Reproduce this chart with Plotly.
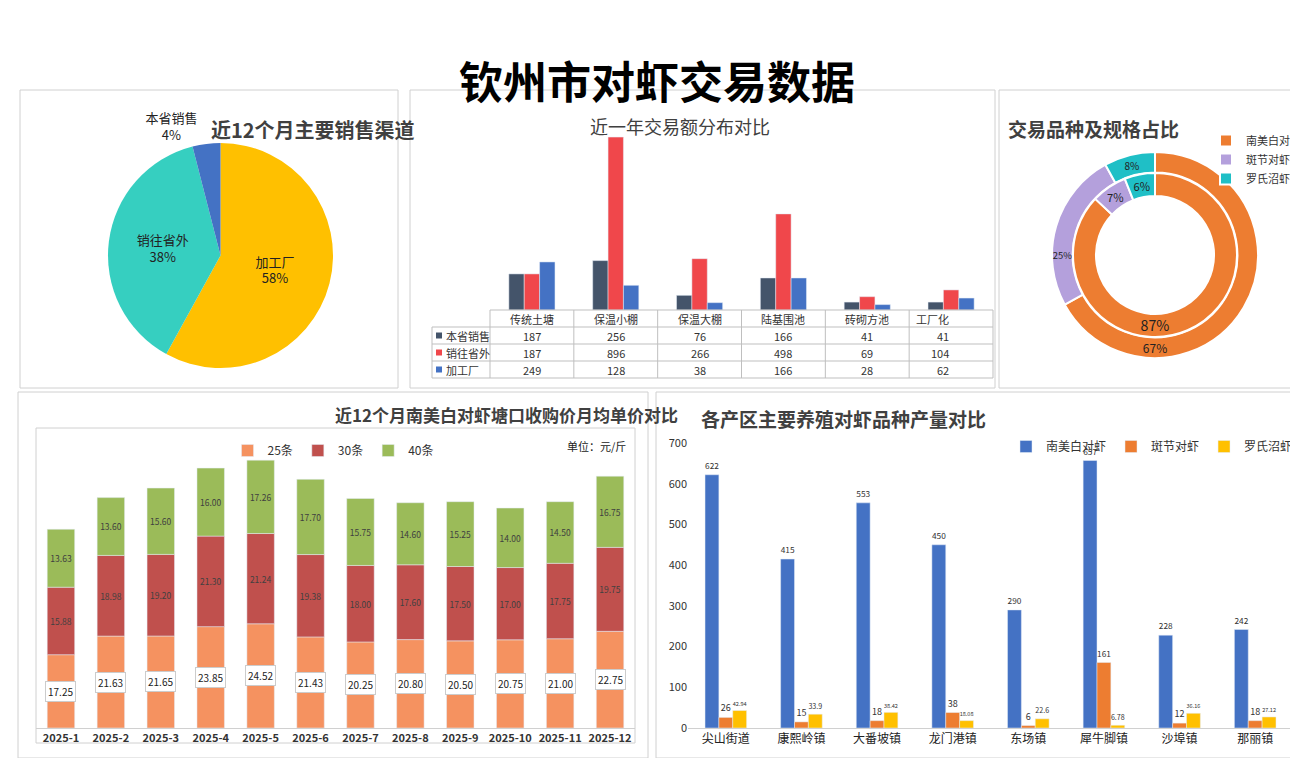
import plotly.graph_objects as go

W, H = 1298, 758

def px(x):
    return x / W

def py(y):
    return 1 - y / H

# ---------------- data ----------------
channel_labels = ["加工厂", "销往省外", "本省销售"]
channel_share = [58, 38, 4]

pond_types = ["传统土塘", "保温小棚", "保温大棚", "陆基围池", "砖砌方池", "工厂化"]
local_sales = [187, 256, 76, 166, 41, 41]
out_province = [187, 896, 266, 498, 69, 104]
factory = [249, 128, 38, 166, 28, 62]

species = ["南美白对虾", "斑节对虾", "罗氏沼虾"]
species_outer = [67, 25, 8]
species_inner = [87, 7, 6]

months = ["2025-1", "2025-2", "2025-3", "2025-4", "2025-5", "2025-6",
          "2025-7", "2025-8", "2025-9", "2025-10", "2025-11", "2025-12"]
price_25 = [17.25, 21.63, 21.65, 23.85, 24.52, 21.43, 20.25, 20.80, 20.50, 20.75, 21.00, 22.75]
price_30 = [15.88, 18.98, 19.20, 21.30, 21.24, 19.38, 18.00, 17.60, 17.50, 17.00, 17.75, 19.75]
price_40 = [13.63, 13.60, 15.60, 16.00, 17.26, 17.70, 15.75, 14.60, 15.25, 14.00, 14.50, 16.75]

towns = ["尖山街道", "康熙岭镇", "大番坡镇", "龙门港镇", "东场镇", "犀牛脚镇", "沙埠镇", "那丽镇"]
white_shrimp = [622, 415, 553, 450, 290, 657, 228, 242]
tiger_shrimp = [26, 15, 18, 38, 6, 161, 12, 18]
giant_prawn = [42.94, 33.9, 38.42, 18.08, 22.6, 6.78, 36.16, 27.12]

FONT = "Noto Sans CJK SC"
fig = go.Figure()

# ---------------- panel 1: pie ----------------
fig.add_trace(go.Pie(
    labels=channel_labels, values=channel_share, sort=False, direction="clockwise",
    rotation=0, marker=dict(colors=["#ffc000", "#36cfc0", "#4472c4"]),
    texttemplate="%{label}<br>%{percent:.0%}", textposition=["inside", "inside", "outside"],
    insidetextorientation="horizontal", textfont=dict(size=13, color="#222"),
    domain=dict(x=[px(60), px(365)], y=[py(360), py(135)]), showlegend=False,
))

# ---------------- panel 2: grouped bars + table ----------------
for name, vals, col in [("本省销售", local_sales, "#44546a"),
                        ("销往省外", out_province, "#f0474b"),
                        ("加工厂", factory, "#4472c4")]:
    fig.add_trace(go.Bar(x=pond_types, y=vals, name=name, marker_color=col,
                         xaxis="x", yaxis="y", showlegend=False))

# ---------------- panel 3: donut ----------------
sp_colors = ["#ed7d31", "#b4a0dc", "#1fbfc6"]
fig.add_trace(go.Pie(
    labels=species, values=species_outer, sort=False, direction="clockwise", hole=0.8,
    marker=dict(colors=sp_colors, line=dict(color="white", width=2)),
    texttemplate="%{percent:.0%}", textposition="inside", insidetextorientation="horizontal",
    textfont=dict(size=12, color="#222"),
    domain=dict(x=[px(1044), px(1250)], y=[py(350), py(144)]), legend="legend",
))
fig.add_trace(go.Pie(
    labels=species, values=species_inner, sort=False, direction="clockwise", hole=0.72,
    marker=dict(colors=sp_colors, line=dict(color="white", width=2)),
    texttemplate="%{percent:.0%}", textposition="inside", insidetextorientation="horizontal",
    textfont=dict(size=15, color="#222"),
    domain=dict(x=[px(1065), px(1229)], y=[py(329), py(165)]), showlegend=False,
))

# ---------------- panel 4: stacked price bars ----------------
base30 = [a for a in price_25]
base40 = [a + b for a, b in zip(price_25, price_30)]
fig.add_trace(go.Bar(x=months, y=price_25, name="25条", marker_color="#f59260",
                     xaxis="x2", yaxis="y2", offsetgroup="s", legend="legend2"))
fig.add_trace(go.Bar(x=months, y=price_30, base=base30, name="30条", marker_color="#c0504d",
                     xaxis="x2", yaxis="y2", offsetgroup="s", legend="legend2",
                     text=[f"{v:.2f}" for v in price_30], textposition="inside", textangle=0,
                     insidetextanchor="middle", textfont=dict(size=12, color="#404040")))
fig.add_trace(go.Bar(x=months, y=price_40, base=base40, name="40条", marker_color="#9bbb59",
                     xaxis="x2", yaxis="y2", offsetgroup="s", legend="legend2",
                     text=[f"{v:.2f}" for v in price_40], textposition="inside", textangle=0,
                     insidetextanchor="middle", textfont=dict(size=12, color="#404040")))

# ---------------- panel 5: production bars ----------------
for name, vals, col in [("南美白对虾", white_shrimp, "#4472c4"),
                        ("斑节对虾", tiger_shrimp, "#ed7d31"),
                        ("罗氏沼虾", giant_prawn, "#ffc000")]:
    fig.add_trace(go.Bar(x=towns, y=vals, name=name, marker_color=col, xaxis="x3", yaxis="y3",
                         text=[f"{v:g}" for v in vals], textposition="outside", cliponaxis=False,
                         textangle=0, textfont=dict(size=9, color="#333"), legend="legend3"))

annotations = []
# labels of 25条 segments in white boxes
for m, v in zip(months, price_25):
    annotations.append(dict(x=m, y=v / 2, xref="x2", yref="y2", text=f"{v:.2f}", showarrow=False,
                            font=dict(size=10, color="#222"), bgcolor="white",
                            bordercolor="#cccccc", borderwidth=1, borderpad=2))

# table under panel 2
row_names = ["本省销售", "销往省外", "加工厂"]
row_cols = ["#44546a", "#f0474b", "#4472c4"]
rows = [local_sales, out_province, factory]
tx0, tx1, ty0, rh = 482, 985, 302, 17
cw = (tx1 - tx0) / len(pond_types)
shapes = []
line_c = "#bfbfbf"
for i, c in enumerate(pond_types):
    annotations.append(dict(x=px(tx0 + cw * (i + 0.5)), y=py(ty0 + rh / 2), xref="paper", yref="paper",
                            text=c, showarrow=False, font=dict(size=11, color="#333")))
for r, (nm, col, vals) in enumerate(zip(row_names, row_cols, rows)):
    yc = ty0 + rh * (r + 1.5)
    shapes.append(dict(type="rect", xref="paper", yref="paper", x0=px(428), x1=px(434),
                       y0=py(yc + 3), y1=py(yc - 3), fillcolor=col, line=dict(width=0)))
    annotations.append(dict(x=px(436), y=py(yc), xref="paper", yref="paper", text=nm, xanchor="left",
                            showarrow=False, font=dict(size=11, color="#333")))
    for i, v in enumerate(vals):
        annotations.append(dict(x=px(tx0 + cw * (i + 0.5)), y=py(yc), xref="paper", yref="paper",
                                text=str(v), showarrow=False, font=dict(size=11, color="#333")))
for r in range(5):
    x0 = tx0 if r == 0 else 424
    shapes.append(dict(type="line", xref="paper", yref="paper", x0=px(x0), x1=px(tx1),
                       y0=py(ty0 + rh * r), y1=py(ty0 + rh * r), line=dict(color=line_c, width=1)))
for i in range(len(pond_types) + 1):
    shapes.append(dict(type="line", xref="paper", yref="paper", x0=px(tx0 + cw * i), x1=px(tx0 + cw * i),
                       y0=py(ty0), y1=py(ty0 + rh * 4), line=dict(color=line_c, width=1)))
shapes.append(dict(type="line", xref="paper", yref="paper", x0=px(424), x1=px(424),
                   y0=py(ty0 + rh), y1=py(ty0 + rh * 4), line=dict(color=line_c, width=1)))

# panel borders
for x0, y0, x1, y1 in [(12, 82, 390, 380), (402, 82, 987, 380), (991, 82, 1290, 380),
                       (10, 384, 640, 750), (648, 384, 1290, 750), (28, 420, 627, 735)]:
    shapes.append(dict(type="rect", xref="paper", yref="paper", x0=px(x0), x1=px(x1),
                       y0=py(y1), y1=py(y0), line=dict(color="#d0d0d0", width=1), layer="below"))

# titles
for txt, x, y, size, bold in [("钦州市对虾交易数据", 649, 38, 44, True),
                              ("近12个月主要销售渠道", 201, 105, 20, True),
                              ("近一年交易额分布对比", 672, 103, 18, False),
                              ("交易品种及规格占比", 1173, 105, 19, True),
                              ("近12个月南美白对虾塘口收购价月均单价对比", 325, 406, 17, True),
                              ("各产区主要养殖对虾品种产量对比", 980, 410, 19, True)]:
    annotations.append(dict(x=px(x), y=py(y), xref="paper", yref="paper", showarrow=False,
                            text=f"<b>{txt}</b>" if bold else txt,
                            font=dict(size=size, color="#000" if size > 40 else "#404040")))
annotations.append(dict(x=px(588), y=py(438), xref="paper", yref="paper", showarrow=False,
                        text="单位：元/斤", font=dict(size=11, color="#222")))

fig.update_layout(
    width=W, height=H, margin=dict(l=0, r=0, t=0, b=0, autoexpand=False), paper_bgcolor="white",
    plot_bgcolor="white", font=dict(family=FONT, color="#333"),
    barmode="group", annotations=annotations, shapes=shapes,
    xaxis=dict(domain=[px(482), px(985)], anchor="y", showticklabels=False, showline=False),
    yaxis=dict(domain=[py(302), py(120)], anchor="x", visible=False, range=[0, 896 / 0.95]),
    xaxis2=dict(domain=[px(28), px(627)], anchor="y2", type="category", showline=True,
                linecolor="#d0d0d0", tickfont=dict(size=11, color="#333", weight="bold")),
    yaxis2=dict(domain=[py(720), py(448)], anchor="x2", visible=False, range=[0, 64]),
    xaxis3=dict(domain=[px(680), px(1285)], anchor="y3", type="category", showline=True,
                linecolor="#d0d0d0", tickfont=dict(size=12, color="#222")),
    yaxis3=dict(domain=[py(720), py(435)], anchor="x3", range=[0, 700], dtick=100,
                showgrid=False, tickfont=dict(size=11, color="#333")),
    bargap=0.45,
    legend=dict(x=px(1198), y=py(118), xanchor="left", yanchor="top", font=dict(size=11),
                itemwidth=30, tracegroupgap=0, bgcolor="rgba(0,0,0,0)"),
    legend2=dict(x=px(325), y=py(428), xanchor="center", yanchor="top", orientation="h",
                 font=dict(size=12), itemwidth=30, bgcolor="rgba(0,0,0,0)"),
    legend3=dict(x=px(1290), y=py(424), xanchor="right", yanchor="top", orientation="h",
                 font=dict(size=12), itemwidth=30, bgcolor="rgba(0,0,0,0)"),
)

fig.write_html("out.html")
